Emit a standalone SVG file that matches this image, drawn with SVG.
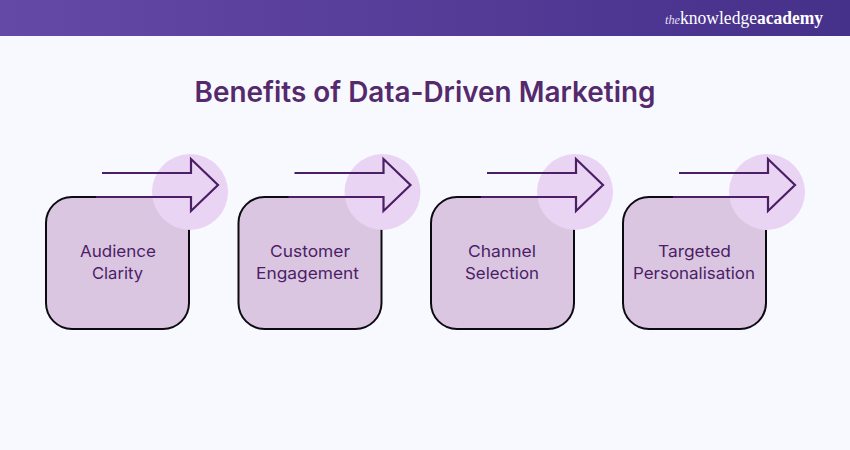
<svg xmlns="http://www.w3.org/2000/svg" width="850" height="450" viewBox="0 0 850 450">
<defs>
<linearGradient id="hdr" x1="0" x2="1" y1="0" y2="0"><stop offset="0" stop-color="#6549a6"/><stop offset="1" stop-color="#45308a"/></linearGradient>
<g id="arrow"><circle class="c" cx="190" cy="192" r="38"/><path class="a" d="M102 173H191V159L218 185L191 211V197H96"/></g>
</defs>
<style>
.box{fill:#dbc6e2;stroke:#0d0a12;stroke-width:2}
.c{fill:#ead4f3}
.a{fill:none;stroke:#4b1e66;stroke-width:2.2}
.l{font:16.5px Inter,"Liberation Sans",sans-serif;fill:#4b1e66;text-anchor:middle}
</style>
<rect width="850" height="450" fill="#f8f9ff"/>
<rect id="header" width="850" height="36" fill="url(#hdr)"/>
<text x="665" y="23.500" font-family="Liberation Serif,serif" font-size="12" font-style="italic" fill="#e4def2" textLength="15" lengthAdjust="spacingAndGlyphs">the</text>
<text x="680" y="23.500" font-family="Liberation Serif,serif" font-size="18" fill="#fff" textLength="77" lengthAdjust="spacingAndGlyphs">knowledge</text>
<text x="757" y="23.500" font-family="Liberation Serif,serif" font-size="18" font-weight="bold" fill="#fff" textLength="66" lengthAdjust="spacingAndGlyphs">academy</text>
<text x="425" y="101.500" font-family="Inter,'Liberation Sans',sans-serif" font-size="28.5" font-weight="600" fill="#552a6d" text-anchor="middle" textLength="461" lengthAdjust="spacingAndGlyphs">Benefits of Data-Driven Marketing</text>
<g id="connectors"></g>
<g id="node1"><rect class="box" x="46" y="197" width="143" height="132" rx="26"/><use href="#arrow"/><text class="l" x="118" y="257" textLength="76" lengthAdjust="spacingAndGlyphs">Audience</text><text class="l" x="117.500" y="279" textLength="51" lengthAdjust="spacingAndGlyphs">Clarity</text></g>
<g id="node2"><rect class="box" x="238.500" y="197" width="143" height="132" rx="26"/><use href="#arrow" x="192.500"/><text class="l" x="310" y="257" textLength="80" lengthAdjust="spacingAndGlyphs">Customer</text><text class="l" x="307.500" y="279" textLength="103" lengthAdjust="spacingAndGlyphs">Engagement</text></g>
<g id="node3"><rect class="box" x="431" y="197" width="143" height="132" rx="26"/><use href="#arrow" x="385"/><text class="l" x="502" y="257" textLength="68" lengthAdjust="spacingAndGlyphs">Channel</text><text class="l" x="502" y="279" textLength="74" lengthAdjust="spacingAndGlyphs">Selection</text></g>
<g id="node4"><rect class="box" x="623" y="197" width="143" height="132" rx="26"/><use href="#arrow" x="577"/><text class="l" x="694.500" y="257" textLength="73" lengthAdjust="spacingAndGlyphs">Targeted</text><text class="l" x="694" y="279" textLength="122" lengthAdjust="spacingAndGlyphs">Personalisation</text></g>
</svg>
